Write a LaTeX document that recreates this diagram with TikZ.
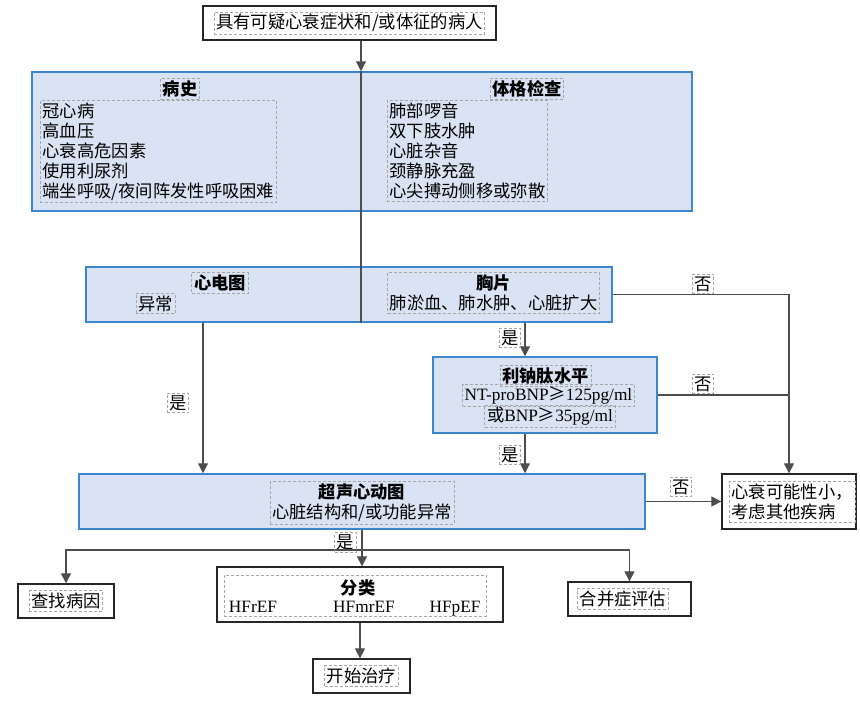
\documentclass[tikz,border=0pt]{standalone}
\usepackage{fontspec}
\setmainfont{Noto Sans CJK SC}
\newfontfamily\lat{Liberation Serif}
\usetikzlibrary{arrows.meta}
\definecolor{bfill}{HTML}{DAE3F3}
\definecolor{bdraw}{HTML}{3A87CF}
\definecolor{lcol}{HTML}{4D4D4D}
\definecolor{dcol}{HTML}{A6A6A6}
\newcommand{\fs}{\fontsize{17.3}{20}\selectfont}
\begin{document}
\begin{tikzpicture}[x=1pt,y=-1pt,
 bluebox/.style={draw=bdraw,fill=bfill,line width=1.5pt,inner sep=0pt},
 blkbox/.style={draw=black!85,fill=white,line width=1.3pt,inner sep=0pt},
 dbox/.style={draw=dcol,dash pattern=on 3pt off 2pt,line width=0.8pt,inner sep=2.2pt,font=\fs},
 hdr/.style={dbox,font=\fs\bfseries},
 ln/.style={draw=lcol,line width=1.1pt},
 arr/.style={ln,-{Triangle[width=10pt,length=10pt]}}
]
\useasboundingbox (0,0) rectangle (860,718);
% top
\node[blkbox,minimum width=293pt,minimum height=34pt] (top) at (349.5,23) {};
\node[dbox] (toptxt) at (top) {具有可疑心衰症状和/或体征的病人};
% history + exam
\node[bluebox,minimum width=660pt,minimum height=139pt] (big) at (362,141.5) {};
\node[hdr] (hist) at (180,89) {病史};
\node[dbox,anchor=north west,align=left] (histl) at (40,100) {冠心病\\高血压\\心衰高危因素\\使用利尿剂\\端坐呼吸/夜间阵发性呼吸困难};
\node[hdr] (exam) at (527,89) {体格检查};
\node[dbox,anchor=north west,align=left] (examl) at (387,100) {肺部啰音\\双下肢水肿\\心脏杂音\\颈静脉充盈\\心尖搏动侧移或弥散};
% ECG / CXR
\node[bluebox,minimum width=526pt,minimum height=55pt] (ecg) at (349,294.5) {};
\node[hdr] (ecgh) at (220,283) {心电图};
\node[dbox] (ecga) at (155.5,303.5) {异常};
\node[dbox,align=center] (cxr) at (493.5,293) {{\bfseries 胸片}\\肺淤血、肺水肿、心脏扩大};
% BNP
\node[bluebox,minimum width=224pt,minimum height=76pt] (bnp) at (545,395) {};
\node[hdr] (bnph) at (545.5,376) {利钠肽水平};
\node[dbox] (bnp1) at (548.5,395.5) {{\lat NT-proBNP}≥{\lat 125pg/ml}};
\node[dbox] (bnp2) at (550,416.5) {或{\lat BNP}≥{\lat 35pg/ml}};
% Echo
\node[bluebox,minimum width=566pt,minimum height=55pt] (echo) at (362,501.5) {};
\node[dbox,align=center] (echot) at (362,503) {{\bfseries 超声心动图}\\心脏结构和/或功能异常};
% unlikely
\node[blkbox,minimum width=134pt,minimum height=55pt] (hx) at (789,501.5) {};
\node[dbox,anchor=west,align=left] (hxt) at (729,502) {心衰可能性小，\\考虑其他疾病};
% bottom row
\node[blkbox,minimum width=96pt,minimum height=34pt] (cause) at (66,601) {};
\node[dbox] (causet) at (cause) {查找病因};
\node[blkbox,minimum width=286pt,minimum height=55pt] (cls) at (360,594.5) {};
\node[draw=dcol,dash pattern=on 3pt off 2pt,line width=0.8pt,minimum width=262pt,minimum height=41pt] (clsd) at (355,595.5) {};
\node[font=\fs\bfseries,inner sep=0pt,anchor=base] (clsh) at (358,594) {分类};
\node[font=\fs\lat,inner sep=0pt,anchor=base] (hf1) at (253,612) {HFrEF};
\node[font=\fs\lat,inner sep=0pt,anchor=base] (hf2) at (364,612) {HFmrEF};
\node[font=\fs\lat,inner sep=0pt,anchor=base] (hf3) at (455,612) {HFpEF};
\node[blkbox,minimum width=97pt,minimum height=34pt] (start) at (361.5,676) {};
\node[dbox] (startt) at (start) {开始治疗};
\node[blkbox,minimum width=123pt,minimum height=34pt] (com) at (629.5,599) {};
\node[dbox] (comt) at (623,599) {合并症评估};
% connectors
\coordinate (sp) at (361,0);
\coordinate (a1) at (203,0);
\coordinate (a2) at (525,0);
\coordinate (br) at (362,550);
\draw[arr] (sp |- top.south) -- (sp |- big.north);
\draw[ln] (sp |- big.north) -- (sp |- ecg.south);
\draw[arr] (ecg.east) -| (hx.north);
\draw[ln] (bnp.east) -- (bnp.east -| hx.north);
\draw[arr] (echo.east) -- (hx.west);
\draw[arr] (a1 |- ecg.south) -- (a1 |- echo.north);
\draw[arr] (a2 |- ecg.south) -- (a2 |- bnp.north);
\draw[arr] (a2 |- bnp.south) -- (a2 |- echo.north);
\draw[arr] (br |- echo.south) -- (br |- cls.north);
\draw[arr] (br) -| (cause.north);
\draw[arr] (br) -| (com.north);
\draw[arr] (cls.south) -- (cls.south |- start.north);
% labels
\node[dbox] (n1) at (703,284) {否};
\node[dbox] (n2) at (703,384) {否};
\node[dbox] (n3) at (681,487) {否};
\node[dbox] (y1) at (178,403) {是};
\node[dbox] (y2) at (510,338) {是};
\node[dbox] (y3) at (510,455) {是};
\node[dbox] (y4) at (345.5,542.5) {是};
\end{tikzpicture}
\end{document}
